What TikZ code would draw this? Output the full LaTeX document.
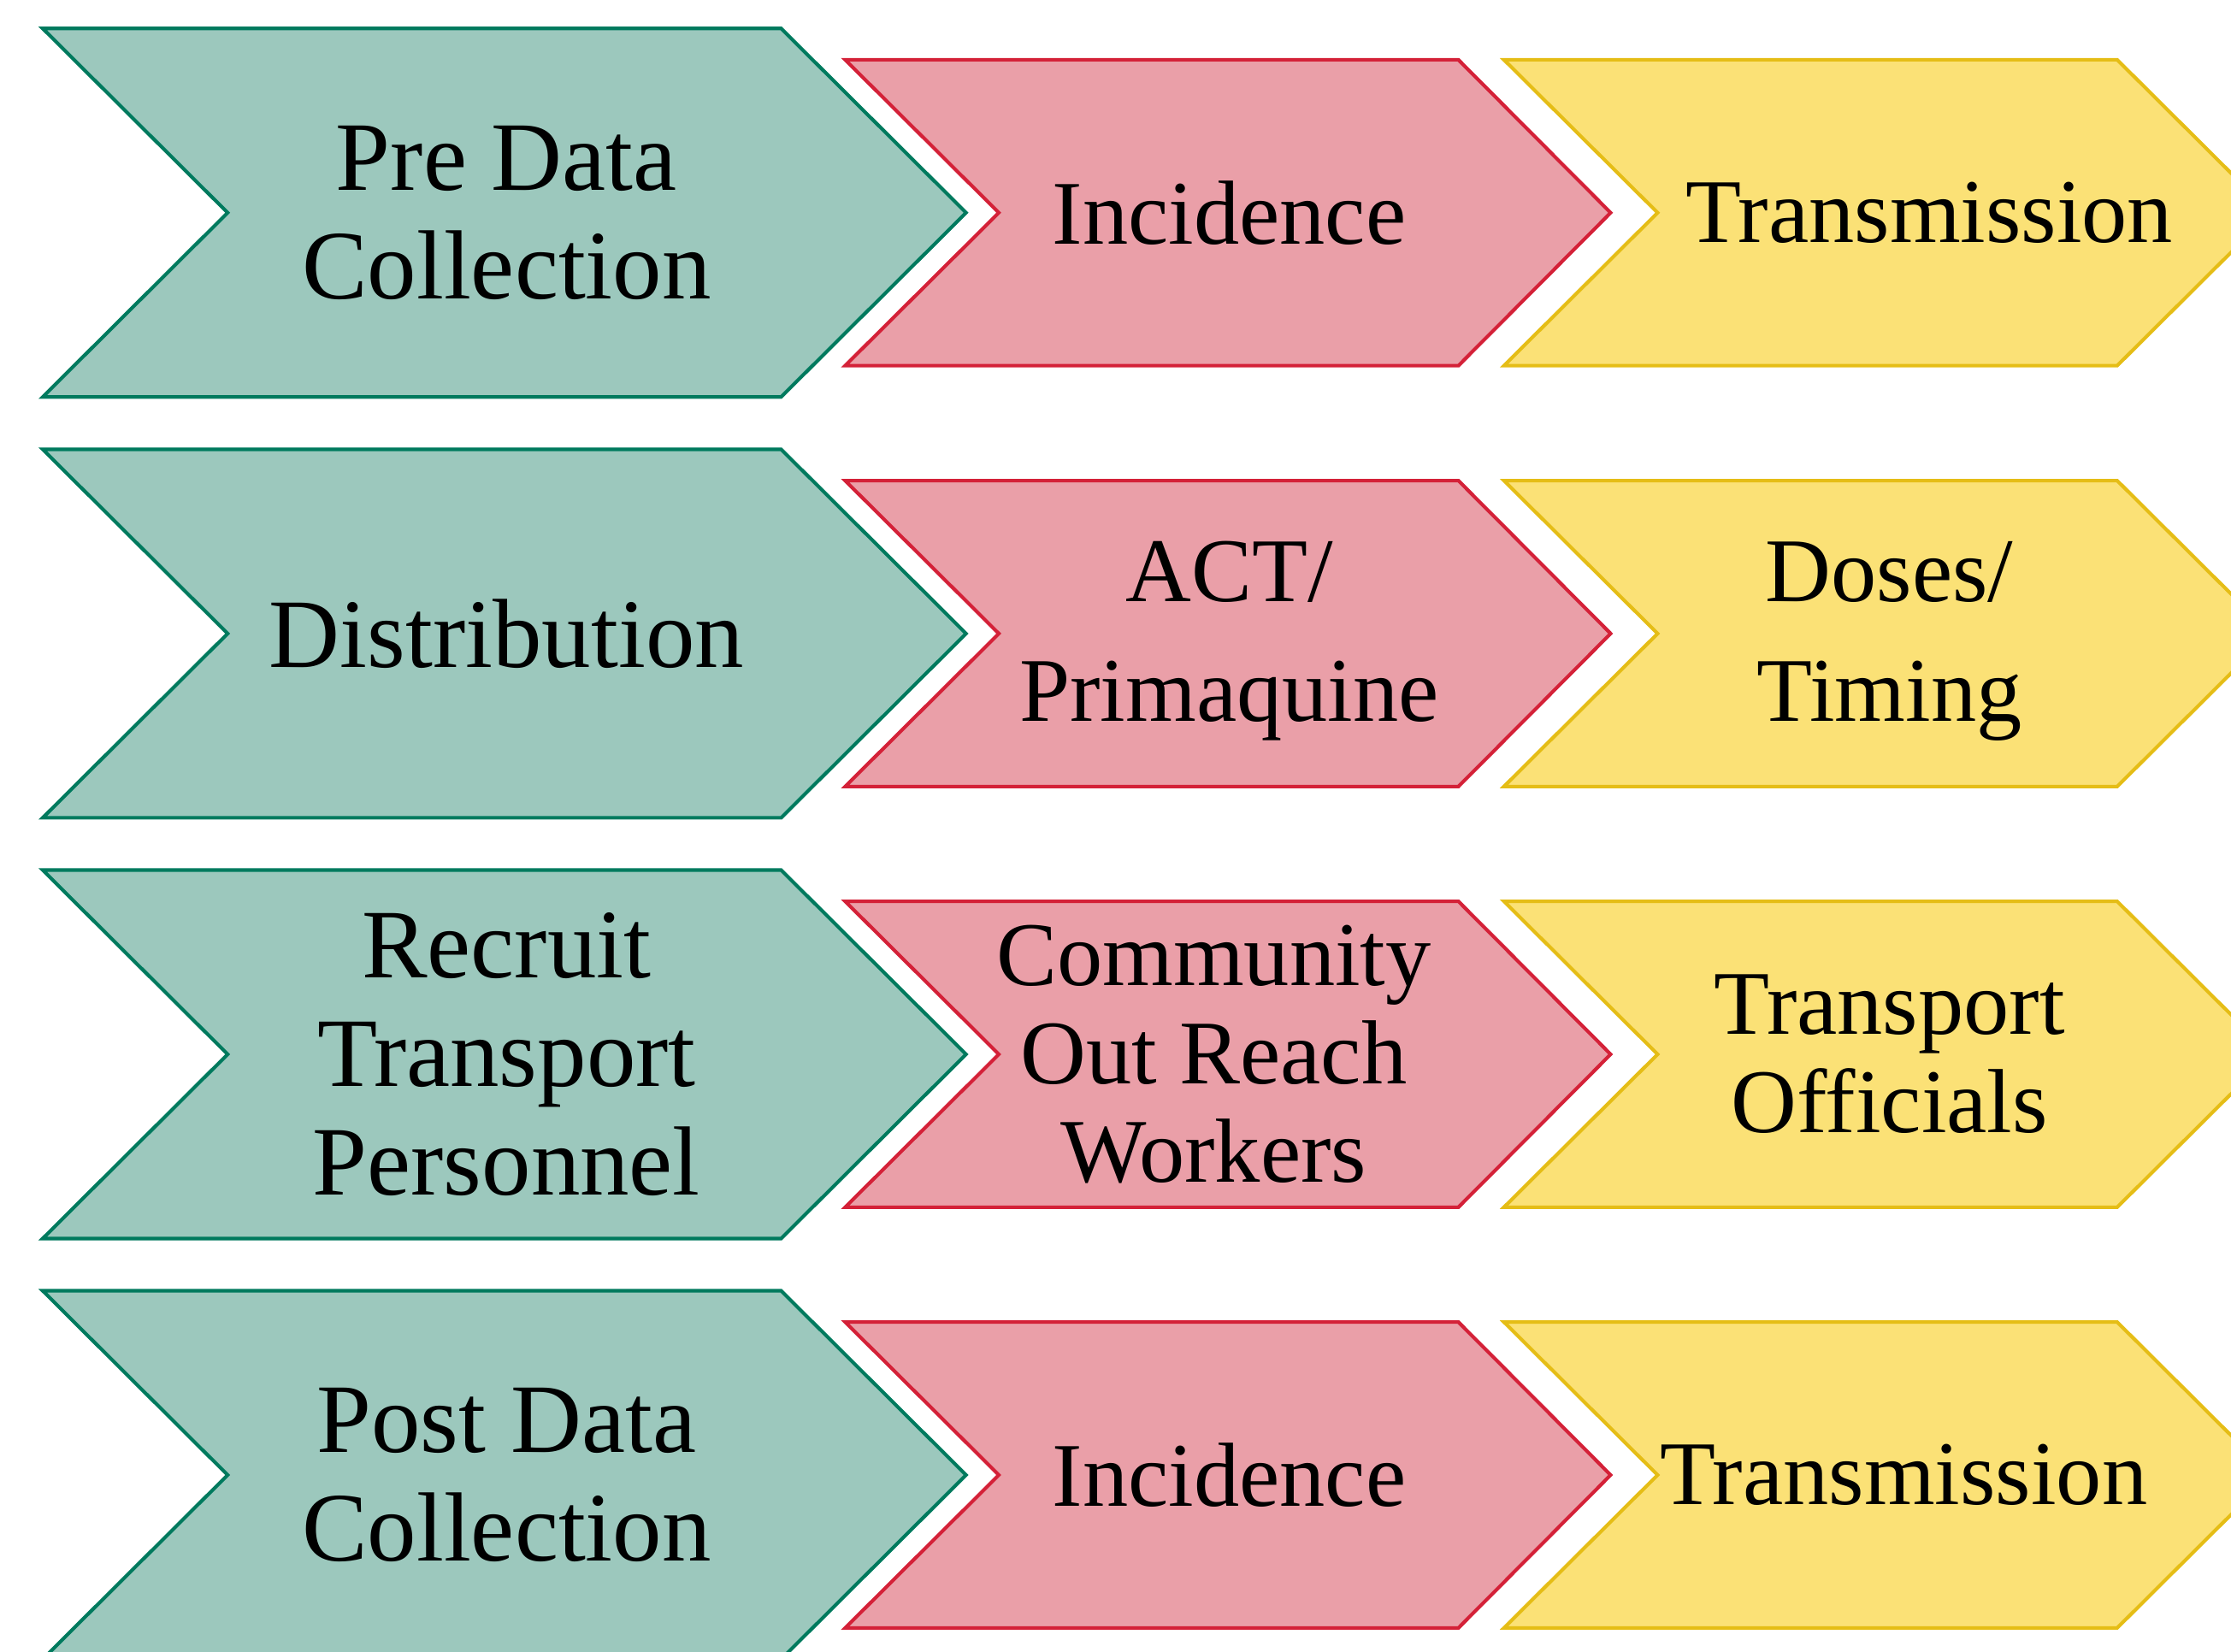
\documentclass[tikz,border=0pt]{standalone}
\usepackage{fontspec}
\setmainfont{Liberation Serif}
\usepackage{tikz}

\definecolor{grnline}{RGB}{0,122,94}
\definecolor{grnfill}{RGB}{156,200,189}
\definecolor{redline}{RGB}{212,33,56}
\definecolor{redfill}{RGB}{234,159,168}
\definecolor{ylwline}{RGB}{229,189,22}
\definecolor{ylwfill}{RGB}{251,225,118}

\begin{document}
\begin{tikzpicture}[x=0.02cm, y=-0.02cm,
        grnchev/.style={draw=grnline, fill=grnfill, line width=1.4pt},
        redchev/.style={draw=redline, fill=redfill, line width=1.4pt},
        ylwchev/.style={draw=ylwline, fill=ylwfill, line width=1.4pt},
        grntxt/.style={font=\fontsize{39.3}{43.4}\selectfont, align=center},
        redtxt/.style={font=\fontsize{36.4}{39.3}\selectfont, align=center}]

        \useasboundingbox (0,0) rectangle (1568,1161);
        \clip (0,0) rectangle (1568,1161);

        % one row of chevrons per step
        \foreach \c in {149.5,445.3,741,1036.7} {
            \draw [grnchev] (30,{\c-129.5}) -- (549,{\c-129.5}) -- (679,\c)
                -- (549,{\c+129.5}) -- (30,{\c+129.5}) -- (160,\c) -- cycle;
            \draw [redchev] (594,{\c-107.5}) -- (1025,{\c-107.5}) -- (1132,\c)
                -- (1025,{\c+107.5}) -- (594,{\c+107.5}) -- (702,\c) -- cycle;
            \draw [ylwchev] (1057,{\c-107.5}) -- (1488,{\c-107.5}) -- (1596,\c)
                -- (1488,{\c+107.5}) -- (1057,{\c+107.5}) -- (1165,\c) -- cycle;
        }

        \node [grntxt] (pre) at (356,149.5) {Pre Data\\Collection};
        \node [redtxt] (inc1) at (864,149.5) {Incidence};
        \node [redtxt] (trans1) at (1356,149.5) {Transmission};

        \node [grntxt] (dist) at (356,445.3) {Distribution};
        \node [redtxt] (act) at (864,450.5) {ACT/\\[8.5pt]Primaquine};
        \node [redtxt] (doses) at (1328,450.5) {Doses/\\[8.5pt]Timing};

        \node [grntxt] (recruit) at (356,741) {Recruit\\Transport\\Personnel};
        \node [redtxt] (comm) at (853,741) {Community\\Out Reach\\Workers};
        \node [redtxt] (officials) at (1328,741) {Transport\\Officials};

        \node [grntxt] (post) at (356,1036.7) {Post Data\\Collection};
        \node [redtxt] (inc2) at (864,1036.7) {Incidence};
        \node [redtxt] (trans2) at (1338,1036.7) {Transmission};

    \end{tikzpicture}
\end{document}
